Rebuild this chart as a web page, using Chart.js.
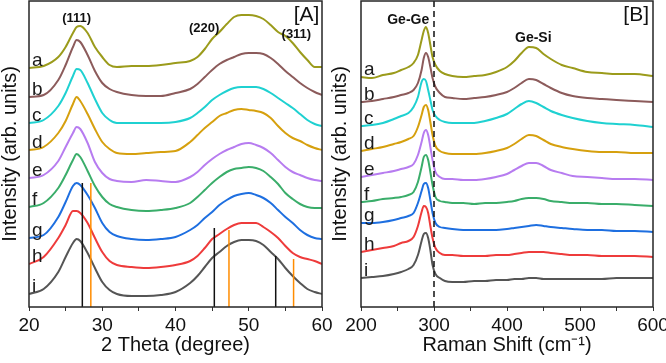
<!DOCTYPE html>
<html>
<head>
<meta charset="utf-8">
<title>XRD and Raman spectra</title>
<script src="https://cdn.jsdelivr.net/npm/chart.js@4.4.1/dist/chart.umd.min.js"></script>
<style>
    html, body { margin: 0; padding: 0; background: #fff; }
    #wrap { position: relative; width: 666px; height: 363px; overflow: hidden; }
    #xrdChart { position: absolute; left: 0; top: 0; }
    #ramanChart { position: absolute; left: 328px; top: 0; }
</style>
</head>
<body>
<div id="wrap">
    <canvas id="xrdChart" width="340" height="363"></canvas>
    <canvas id="ramanChart" width="338" height="363"></canvas>
</div>
<script>
// Sample names and colours (a -> i, top to bottom)
const sampleNames = ['a', 'b', 'c', 'd', 'e', 'f', 'g', 'h', 'i'];
const curveColors = ['#9b9b1b', '#8c5b5b', '#1fd1d1', '#d6a00e', '#b77cf0', '#3aad6a', '#1e6fe0', '#ee3b3b', '#555555'];

// XRD patterns, stacked (arb. units)
const xrdTheta = [20, 22, 24, 25, 26, 26.5, 27, 28, 29, 30, 31, 32, 34, 36, 38, 40, 42, 43, 44, 45, 46, 47, 48, 49, 50, 51, 52, 53, 54, 55, 56, 57, 58, 59, 60];
const xrdA = [239, 241, 250, 260, 274, 280, 281, 274, 260, 250, 242, 240, 241, 241, 242, 244, 246, 250, 258, 268, 275, 283, 290, 292, 292, 291, 288, 282, 275, 271, 264, 255, 247, 240, 240];
const xrdB = [210, 212, 227, 242, 260, 267, 265, 252, 236, 224, 218, 215, 212, 211, 211, 214, 218, 223, 230, 237, 243, 247, 250, 253, 254, 254, 253, 249, 243, 236, 230, 224, 219, 215, 212];
const xrdC = [184, 187, 201, 214, 231, 238, 237, 224, 208, 194, 187, 184, 184, 184, 184, 185, 189, 194, 200, 207, 212, 216, 219, 220, 220, 220, 218, 214, 209, 204, 199, 193, 187, 183, 181];
const xrdD = [157, 160, 174, 186, 203, 210, 206, 193, 178, 165, 158, 154, 153, 154, 155, 156, 165, 172, 179, 185, 191, 194, 197, 198, 197, 196, 194, 189, 181, 174, 169, 166, 162, 159, 157];
const xrdE = [129, 132, 146, 160, 174, 180, 178, 164, 145, 134, 128, 126, 125, 127, 126, 125, 130, 135, 142, 148, 153, 157, 160, 163, 164, 162, 159, 154, 147, 140, 135, 132, 129, 127, 126];
const xrdF = [100, 104, 119, 132, 147, 153, 150, 136, 121, 110, 103, 100, 97, 96, 97, 99, 104, 110, 117, 124, 130, 135, 138, 139, 140, 139, 136, 130, 123, 114, 108, 103, 100, 99, 99];
const xrdG = [69, 72, 90, 105, 121, 124, 122, 112, 99, 84, 75, 71, 68, 67, 68, 70, 77, 82, 89, 95, 102, 107, 111, 113, 114, 112, 109, 104, 97, 90, 84, 77, 72, 69, 68];
const xrdH = [43, 50, 69, 82, 96, 96, 94, 84, 69, 55, 46, 42, 40, 39, 40, 42, 46, 51, 59, 68, 73, 78, 82, 84, 84, 84, 80, 75, 69, 61, 54, 50, 48, 46, 43];
const xrdI = [13, 18, 35, 50, 64, 68, 66, 54, 39, 25, 17, 13, 11, 11, 12, 15, 24, 31, 40, 49, 55, 61, 65, 67, 67, 66, 62, 55, 48, 39, 31, 24, 18, 15, 13];

// Reference reflections: Ge (black) and Si (orange)
const geRefPos = [27.28, 45.30, 53.68];
const geRefHeight = [124, 79, 51];
const siRefPos = [28.44, 47.30, 56.12];
const siRefHeight = [124, 77, 48];

// Raman spectra, stacked (arb. units)
const ramanShift = [200, 215, 230, 245, 255, 265, 272, 278, 283, 286, 289, 292, 295, 298, 302, 308, 315, 325, 340, 355, 370, 385, 400, 410, 420, 430, 440, 450, 460, 475, 490, 510, 530, 550, 575, 600];
const ramanA = [230, 229, 232, 234, 237, 240, 244, 252, 267, 276, 280, 274, 262, 250, 242, 236, 233, 231, 230, 231, 232, 235, 240, 246, 254, 260, 259, 253, 248, 242, 239, 235, 234, 233, 233, 231];
const ramanB = [205, 206, 208, 210, 212, 214, 217, 224, 237, 249, 254, 250, 240, 229, 220, 214, 210, 209, 208, 209, 210, 212, 215, 219, 224, 228, 227, 223, 219, 214, 211, 209, 208, 207, 206, 205];
const ramanC = [181, 182, 184, 188, 191, 194, 200, 210, 225, 228, 226, 217, 207, 197, 191, 187, 185, 184, 184, 184, 186, 189, 193, 198, 203, 206, 204, 200, 196, 192, 189, 186, 184, 183, 182, 180];
const ramanD = [156, 158, 160, 163, 165, 168, 171, 180, 192, 200, 202, 197, 185, 172, 161, 156, 154, 153, 153, 153, 154, 156, 159, 163, 168, 172, 171, 167, 163, 160, 158, 156, 155, 155, 154, 154];
const ramanE = [130, 132, 134, 136, 138, 140, 143, 152, 165, 174, 177, 172, 160, 147, 135, 130, 128, 128, 127, 127, 128, 130, 133, 137, 141, 144, 144, 141, 137, 134, 131, 130, 129, 128, 128, 127];
const ramanF = [105, 106, 108, 109, 110, 112, 115, 125, 140, 150, 152, 147, 135, 122, 110, 106, 105, 104, 104, 103, 104, 104, 105, 106, 108, 109, 109, 108, 106, 105, 104, 104, 103, 103, 102, 101];
const ramanG = [84, 84, 85, 87, 89, 91, 94, 104, 116, 123, 124, 119, 107, 94, 84, 80, 79, 78, 77, 77, 77, 77, 78, 79, 80, 81, 82, 81, 80, 79, 78, 77, 77, 76, 76, 75];
const ramanH = [55, 57, 59, 61, 64, 66, 70, 81, 95, 101, 100, 94, 81, 69, 59, 54, 52, 52, 51, 51, 51, 52, 52, 53, 54, 55, 55, 55, 54, 53, 52, 52, 51, 51, 51, 50];
const ramanI = [29, 30, 31, 33, 35, 38, 42, 52, 66, 73, 74, 69, 57, 42, 33, 29, 26, 25, 25, 26, 26, 27, 27, 28, 28, 29, 29, 28, 28, 28, 28, 28, 28, 29, 29, 29];
const geGeMark = 300;

Chart.defaults.font.family = '"Liberation Sans", Arial, sans-serif';
Chart.defaults.color = '#111';

// Box around the plot area
const framePlugin = {
    id: 'frame',
    afterDatasetsDraw(chart) {
        const { ctx, chartArea: a } = chart;
        ctx.save();
        ctx.strokeStyle = '#262626';
        ctx.lineWidth = 1.5;
        ctx.strokeRect(a.left, a.top, a.right - a.left, a.bottom - a.top);
        ctx.restore();
    }
};

// a..i next to the start of each curve
const curveLabelPlugin = {
    id: 'curveLabels',
    afterDatasetsDraw(chart) {
        const { ctx, chartArea } = chart;
        ctx.save();
        ctx.font = '19px "Liberation Sans", Arial, sans-serif';
        ctx.fillStyle = '#1a1a1a';
        chart.data.datasets.forEach((ds, i) => {
            if (!ds.sample) return;
            const first = chart.getDatasetMeta(i).data[0];
            ctx.fillText(ds.sample, chartArea.left + 3, first.y - 2);
        });
        ctx.restore();
    }
};

// Peak names and panel tag
const notePlugin = {
    id: 'notes',
    afterDatasetsDraw(chart, args, opts) {
        const { ctx } = chart;
        const xs = chart.scales.x, ys = chart.scales.y;
        ctx.save();
        ctx.fillStyle = '#111';
        ctx.textAlign = 'center';
        (opts.items || []).forEach(n => {
            ctx.font = n.font;
            ctx.fillText(n.text, xs.getPixelForValue(n.x), ys.getPixelForValue(n.y));
        });
        ctx.restore();
    }
};

function curveSets(xs, curves) {
    return curves.map((vals, k) => ({
        sample: sampleNames[k],
        data: xs.map((x, j) => ({ x: x, y: vals[j] })),
        borderColor: curveColors[k],
        borderWidth: 2,
        pointRadius: 0,
        cubicInterpolationMode: 'monotone',
        order: 2
    }));
}

function vLine(x, h, color, dash) {
    return {
        data: [{ x: x, y: 0 }, { x: x, y: h }],
        borderColor: color,
        borderWidth: 1.5,
        borderDash: dash || [],
        pointRadius: 0,
        order: 1
    };
}

function panelOptions(xMin, xMax, step, labelEvery, xTitle, yWidth, padRight, yTitlePad, notes) {
    return {
        responsive: false,
        animation: false,
        layout: { padding: { top: 1, right: padRight, left: 0, bottom: 0 } },
        plugins: {
            legend: { display: false },
            tooltip: { enabled: false },
            notes: { items: notes }
        },
        scales: {
            x: {
                type: 'linear',
                min: xMin,
                max: xMax,
                ticks: {
                    stepSize: step,
                    autoSkip: false,
                    maxRotation: 0,
                    padding: 3,
                    font: { size: 19 },
                    color: '#111',
                    callback: v => (v % labelEvery === 0 ? v : '')
                },
                grid: { display: true, drawOnChartArea: false, drawTicks: true, tickLength: 4, color: '#333' },
                border: { display: false },
                title: { display: true, text: xTitle, font: { size: 20 }, color: '#111', padding: { top: 0, bottom: 6 } },
                afterFit(scale) {
                    scale.height = 56;
                    scale.paddingLeft = 0;
                    scale.paddingRight = 0;
                }
            },
            y: {
                min: 0,
                max: 306,
                ticks: { display: false },
                grid: { display: false },
                border: { display: false },
                title: {
                    display: true,
                    text: 'Intensity (arb. units)',
                    font: { size: 20, lineHeight: 1 },
                    color: '#111',
                    padding: { top: yTitlePad, bottom: 0 }
                },
                afterFit(scale) {
                    scale.width = yWidth;
                }
            }
        }
    };
}

// Panel A: XRD
const xrdData = curveSets(xrdTheta, [xrdA, xrdB, xrdC, xrdD, xrdE, xrdF, xrdG, xrdH, xrdI])
    .concat(geRefPos.map((p, k) => vLine(p, geRefHeight[k], '#111')))
    .concat(siRefPos.map((p, k) => vLine(p, siRefHeight[k], '#ff8c00')));

new Chart(document.getElementById('xrdChart'), {
    type: 'line',
    data: { datasets: xrdData },
    options: panelOptions(20, 60, 5, 10, '2 Theta (degree)', 29, 18, 0, [
        { text: '(111)', x: 26.5, y: 285, font: 'bold 13px "Liberation Sans", Arial, sans-serif' },
        { text: '(220)', x: 43.9, y: 275, font: 'bold 13px "Liberation Sans", Arial, sans-serif' },
        { text: '(311)', x: 56.5, y: 269, font: 'bold 13px "Liberation Sans", Arial, sans-serif' },
        { text: '[A]', x: 57.9, y: 286, font: '21px "Liberation Sans", Arial, sans-serif' }
    ]),
    plugins: [framePlugin, curveLabelPlugin, notePlugin]
});

// Panel B: Raman
const ramanData = curveSets(ramanShift, [ramanA, ramanB, ramanC, ramanD, ramanE, ramanF, ramanG, ramanH, ramanI])
    .concat([vLine(geGeMark, 306, '#111', [6, 4])]);

new Chart(document.getElementById('ramanChart'), {
    type: 'line',
    data: { datasets: ramanData },
    options: panelOptions(200, 600, 50, 100, 'Raman Shift (cm\u207B\u00B9)', 33, 13, 2, [
        { text: 'Ge-Ge', x: 264.7, y: 283, font: 'bold 14px "Liberation Sans", Arial, sans-serif' },
        { text: 'Ge-Si', x: 436, y: 265.5, font: 'bold 14px "Liberation Sans", Arial, sans-serif' },
        { text: '[B]', x: 577, y: 286, font: '21px "Liberation Sans", Arial, sans-serif' }
    ]),
    plugins: [framePlugin, curveLabelPlugin, notePlugin]
});
</script>
</body>
</html>
